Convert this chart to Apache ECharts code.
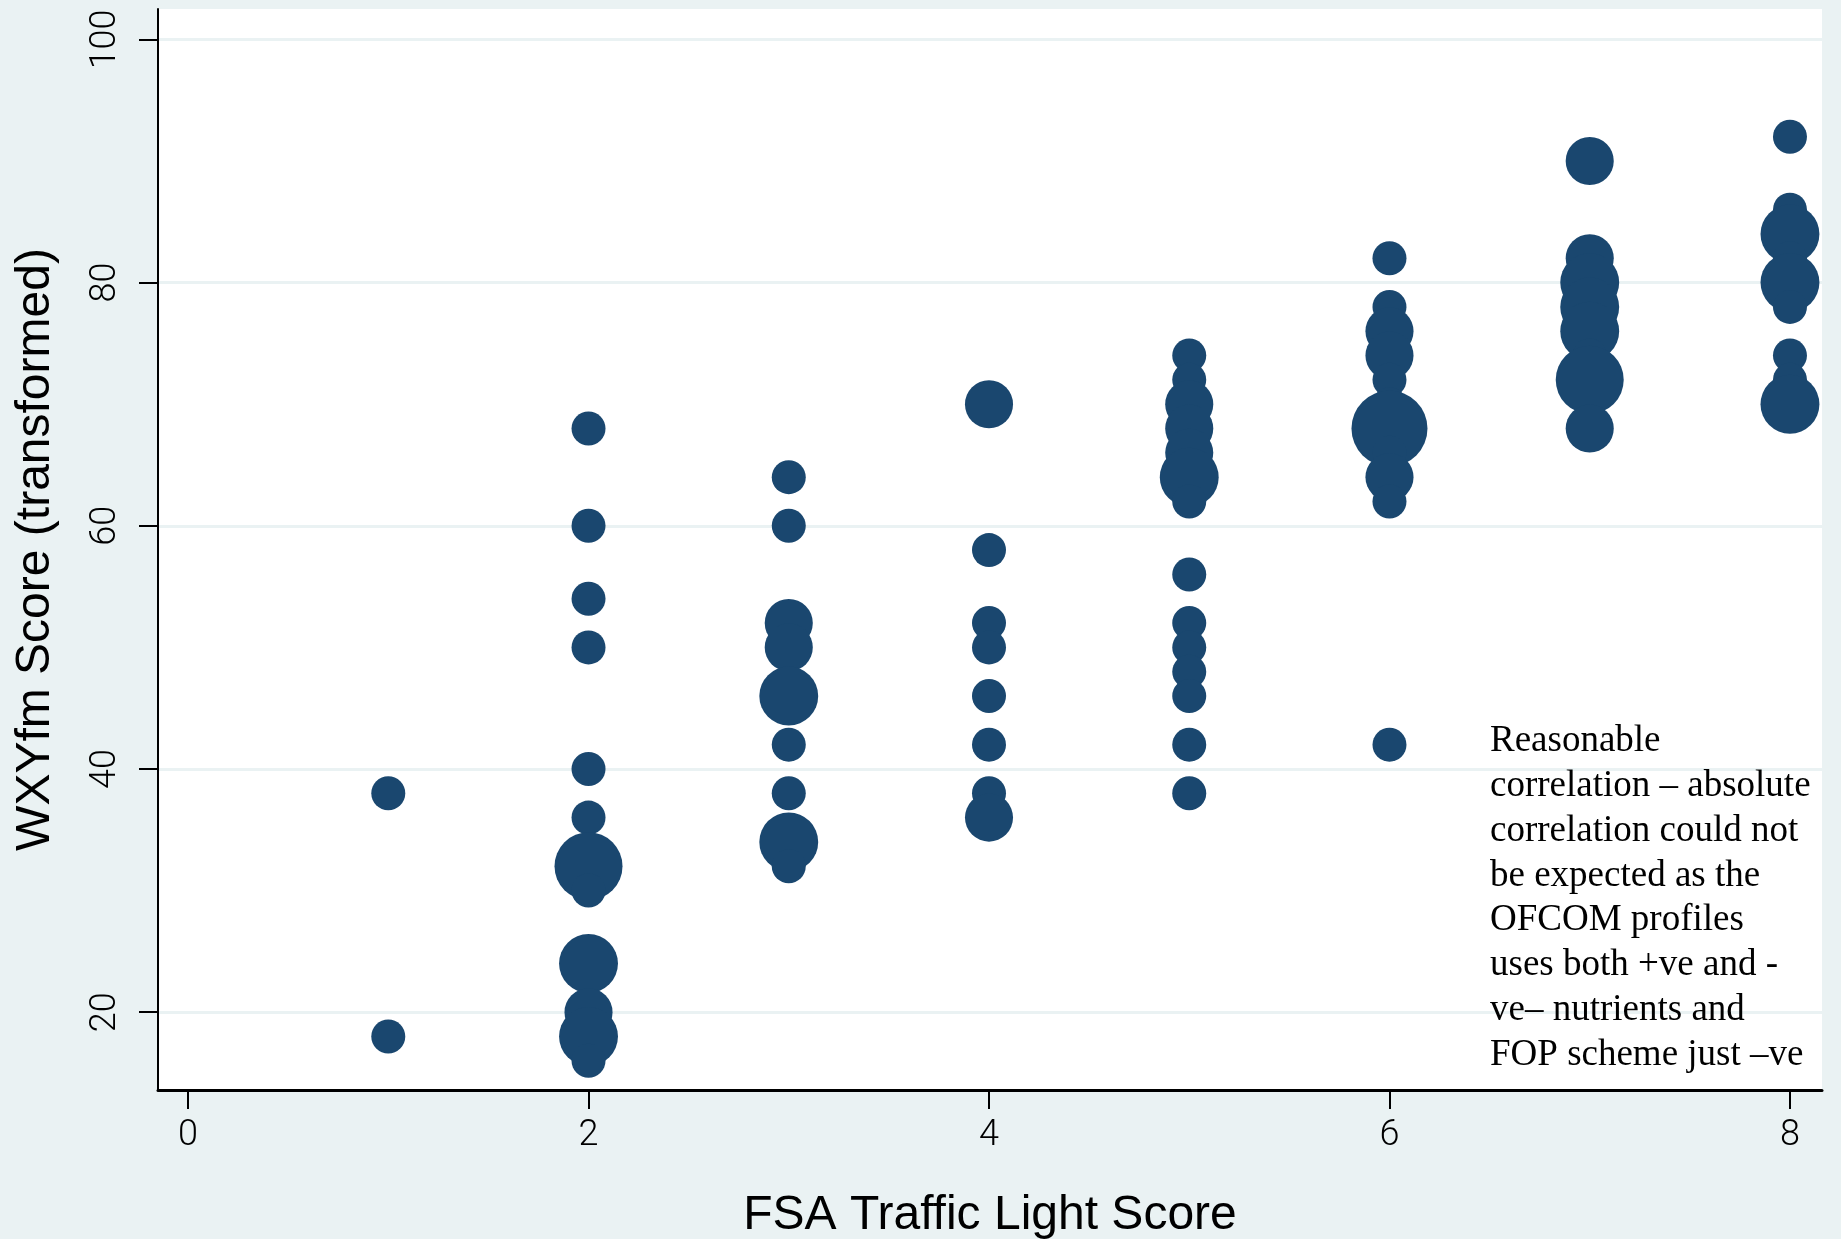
<!DOCTYPE html>
<html>
<head>
<meta charset="utf-8">
<script src="https://cdn.jsdelivr.net/npm/echarts@6/dist/echarts.min.js"></script>
<style>
  html, body { margin: 0; padding: 0; background: #eaf2f3; }
  #chart { width: 1841px; height: 1239px; }
</style>
</head>
<body>
<div id="chart"></div>
<script>
// FSA traffic light score per product
const fsaScore = [
  1, 1,
  2, 2, 2, 2, 2, 2, 2, 2, 2, 2, 2, 2,
  3, 3, 3, 3, 3, 3, 3, 3, 3,
  4, 4, 4, 4, 4, 4, 4, 4,
  5, 5, 5, 5, 5, 5, 5, 5, 5, 5, 5, 5, 5, 5,
  6, 6, 6, 6, 6, 6, 6, 6, 6, 6, 6,
  7, 7, 7, 7, 7, 7, 7, 7,
  8, 8, 8, 8, 8, 8, 8, 8, 8
];
// WXYfm score (transformed) for the same products
const wxyScore = [
  38, 18,
  68, 60, 54, 50, 40, 36, 32, 30, 24, 20, 18, 16,
  64, 60, 52, 50, 46, 42, 38, 34, 32,
  70, 58, 52, 50, 46, 42, 38, 36,
  74, 72, 70, 68, 66, 64, 62, 56, 52, 50, 48, 46, 42, 38,
  82, 78, 76, 74, 72, 70, 68, 66, 64, 62, 42,
  90, 82, 80, 78, 76, 74, 72, 68,
  92, 86, 84, 82, 80, 78, 74, 72, 70
];
// number of products sharing each (FSA, WXYfm) pair -> marker weight
const frequency = [
  1, 1,
  1, 1, 1, 1, 1, 1, 4, 1, 3, 2, 3, 1,
  1, 1, 2, 2, 3, 1, 1, 3, 1,
  2, 1, 1, 1, 1, 1, 1, 2,
  1, 1, 2, 2, 2, 3, 1, 1, 1, 1, 1, 1, 1, 1,
  1, 1, 2, 2, 1, 1, 5, 1, 2, 1, 1,
  2, 2, 3, 3, 3, 1, 4, 2,
  1, 1, 3, 1, 3, 1, 1, 1, 3
];
const xTicks = [0, 2, 4, 6, 8];
const yTicks = [20, 40, 60, 80, 100];
const noteLines = [
  'Reasonable',
  'correlation \u2013 absolute',
  'correlation could not',
  'be expected as the',
  'OFCOM profiles',
  'uses both +ve and -',
  've\u2013 nutrients and',
  'FOP scheme just \u2013ve'
];

const points = fsaScore.map((x, i) => [x, wxyScore[i], frequency[i]]);

const tickFont = { fontFamily: 'Roboto, Liberation Sans, Arial, sans-serif', fontWeight: 300, fontSize: 36, color: '#000' };
const titleFont = { fontFamily: 'Liberation Sans, Arial, sans-serif', fontSize: 48, color: '#000' };

const chart = echarts.init(document.getElementById('chart'), null, { renderer: 'canvas' });
chart.setOption({
  backgroundColor: '#eaf2f3',
  animation: false,
  grid: {
    left: 158, right: 19, top: 9, bottom: 149,
    outerBoundsMode: 'none',
    containLabel: false,
    show: true, backgroundColor: '#ffffff', borderWidth: 0
  },
  xAxis: {
    type: 'value',
    min: -0.15, max: 8.16,
    name: 'FSA Traffic Light Score',
    nameLocation: 'middle',
    nameGap: 102,
    nameTextStyle: titleFont,
    axisLine: { show: true, onZero: false, lineStyle: { color: '#000', width: 3 } },
    axisTick: { show: true, length: 19, customValues: xTicks, lineStyle: { color: '#000', width: 2 } },
    axisLabel: Object.assign({ margin: 28, customValues: xTicks }, tickFont),
    splitLine: { show: false }
  },
  yAxis: {
    type: 'value',
    min: 13.6, max: 102.5,
    name: 'WXYfm Score (transformed)',
    nameLocation: 'middle',
    nameGap: 98,
    nameRotate: 90,
    nameTextStyle: titleFont,
    axisLine: { show: true, onZero: false, lineStyle: { color: '#000', width: 2 } },
    axisTick: { show: true, length: 19, customValues: yTicks, lineStyle: { color: '#000', width: 2 } },
    axisLabel: Object.assign({ margin: 34, rotate: 90, customValues: yTicks }, tickFont),
    splitLine: { show: true, lineStyle: { color: '#eaf2f3', width: 3 } }
  },
  series: [{
    type: 'scatter',
    data: points,
    symbol: 'circle',
    symbolSize: v => 34 * Math.sqrt(v[2]),
    itemStyle: { color: '#1a476f', opacity: 1 },
    emphasis: { disabled: true }
  }],
  graphic: [{
    type: 'text',
    x: 1490,
    y: 719,
    z: 100,
    style: {
      text: noteLines.join('\n'),
      fontFamily: 'Liberation Serif, Times New Roman, serif',
      fontSize: 37,
      lineHeight: 44.8,
      fill: '#000',
      align: 'left',
      verticalAlign: 'top'
    }
  }]
});
</script>
</body>
</html>
